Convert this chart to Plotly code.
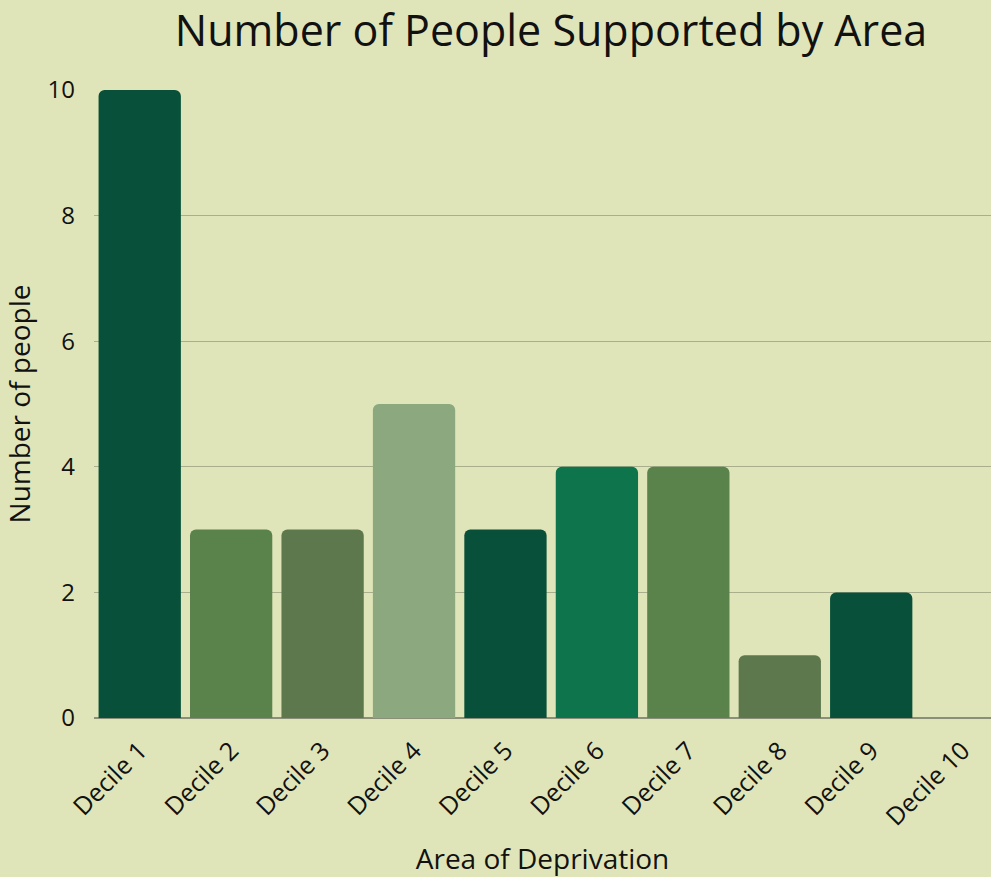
import plotly.graph_objects as go

categories = ["Decile 1", "Decile 2", "Decile 3", "Decile 4", "Decile 5",
              "Decile 6", "Decile 7", "Decile 8", "Decile 9", "Decile 10"]
values = [10, 3, 3, 5, 3, 4, 4, 1, 2, 0]
colors = ["#08503A", "#5A824B", "#5E784E", "#8CA87E", "#08503A",
          "#0E744C", "#5A824B", "#5E784E", "#08503A", "#08503A"]
y_ticks = [0, 2, 4, 6, 8, 10]

FONT = "Open Sans"
BG = "#E0E5B9"

fig = go.Figure(go.Bar(
    x=list(range(len(categories))), y=values,
    marker=dict(color=colors, line=dict(width=0), cornerradius=6),
    width=0.9,
))

fig.update_layout(
    width=991, height=877,
    paper_bgcolor=BG, plot_bgcolor=BG,
    margin=dict(l=94, r=0, t=90, b=159, autoexpand=False),
    showlegend=False,
    title=dict(text="Number of People Supported by Area", x=0.556, xanchor="center",
               y=0.965, yanchor="middle",
               font=dict(family=FONT, size=43, color="#111111")),
    font=dict(family=FONT, color="#111111"),
)
fig.update_xaxes(
    tickmode="array", tickvals=list(range(len(categories))), ticktext=categories,
    range=[-0.5, 9.31], tickangle=-45, tickfont=dict(size=25),
    showgrid=False, zeroline=False, showline=False, ticks="",
    automargin=False, ticklabelstandoff=12,
    title=dict(text="Area of Deprivation", font=dict(size=28), standoff=22),
)
fig.update_yaxes(
    range=[0, 10], tickvals=y_ticks, tickfont=dict(size=24),
    showgrid=True, gridcolor="#A9AF8D", gridwidth=1,
    zeroline=True, zerolinecolor="#8A8F78", zerolinewidth=1.5,
    showline=False, ticks="", ticklabelstandoff=18,
    automargin=False,
    title=dict(text="Number of people", font=dict(size=28), standoff=20),
)

fig.write_html("out.html")
